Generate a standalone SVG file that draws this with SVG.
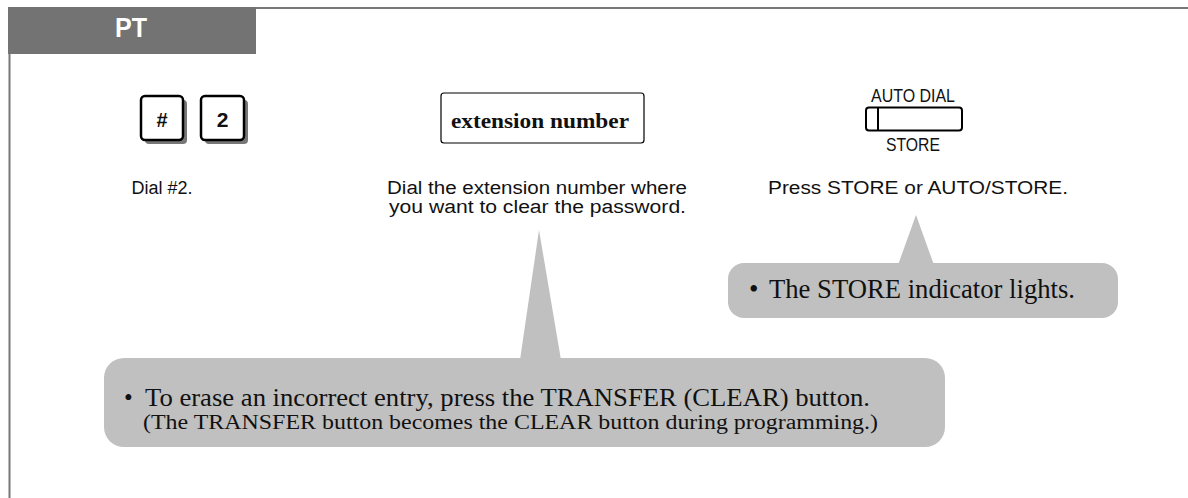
<svg xmlns="http://www.w3.org/2000/svg" width="1188" height="498" viewBox="0 0 1188 498">
<style>
.sans{font-family:"Liberation Sans",Arial,sans-serif;fill:#111}
.serif{font-family:"Liberation Serif","Times New Roman",serif;fill:#111}
.key{fill:#fff;stroke:#000;stroke-width:2.5}
.shadow{fill:#777}
.bubble{fill:#c0c0c0}
.desc{font-size:18px}
</style>
<rect width="1188" height="498" fill="#fff"/>
<g id="frame">
<line x1="8" y1="8" x2="1188" y2="8" stroke="#777" stroke-width="2"/>
<line x1="9.5" y1="54" x2="9.5" y2="498" stroke="#777" stroke-width="2"/>
<rect x="8" y="7" width="248" height="47" fill="#737373"/>
<text x="131" y="37" text-anchor="middle" class="sans" style="fill:#fff;font-weight:bold;font-size:27px" textLength="32" lengthAdjust="spacingAndGlyphs">PT</text>
</g>
<g id="key-hash">
<rect x="145" y="100" width="42" height="44" rx="4" class="shadow"/>
<rect x="141" y="96" width="42" height="44" rx="4" class="key"/>
<text x="162" y="127" text-anchor="middle" class="sans" style="font-weight:bold;font-size:20px">#</text>
</g>
<g id="key-2">
<rect x="205" y="100" width="43" height="44" rx="4" class="shadow"/>
<rect x="201" y="96" width="43" height="44" rx="4" class="key"/>
<text x="222.5" y="127" text-anchor="middle" class="sans" style="font-weight:bold;font-size:21px">2</text>
</g>
<g id="ext-box">
<rect x="441" y="93" width="203" height="50" rx="3" fill="#fff" stroke="#000" stroke-width="1.2"/>
<text x="540" y="128" text-anchor="middle" class="serif" style="font-weight:bold;font-size:22px" textLength="178" lengthAdjust="spacingAndGlyphs">extension number</text>
</g>
<g id="store-button">
<text x="913" y="102" text-anchor="middle" class="sans" style="font-size:18px" textLength="84" lengthAdjust="spacingAndGlyphs">AUTO DIAL</text>
<rect x="866" y="107.5" width="96" height="23" rx="3" fill="#fff" stroke="#000" stroke-width="2"/>
<line x1="878" y1="107.5" x2="878" y2="130.5" stroke="#000" stroke-width="2"/>
<text x="913" y="151" text-anchor="middle" class="sans" style="font-size:18px" textLength="54" lengthAdjust="spacingAndGlyphs">STORE</text>
</g>
<g id="descriptions">
<text x="162" y="194" text-anchor="middle" class="sans desc">Dial #2.</text>
<text x="537" y="194" text-anchor="middle" class="sans desc" textLength="300" lengthAdjust="spacingAndGlyphs">Dial the extension number where</text>
<text x="537.5" y="213" text-anchor="middle" class="sans desc" textLength="297" lengthAdjust="spacingAndGlyphs">you want to clear the password.</text>
<text x="918" y="194" text-anchor="middle" class="sans desc" textLength="300" lengthAdjust="spacingAndGlyphs">Press STORE or AUTO/STORE.</text>
</g>
<g id="connectors">
<polygon points="539,230 520,360 561,360" class="bubble"/>
<polygon points="916,215 898,265 934,265" class="bubble"/>
</g>
<g id="callout-store">
<rect x="728" y="263" width="390" height="55" rx="16" class="bubble"/>
<text x="749" y="298" class="serif" style="font-size:27px">•</text>
<text x="769" y="298" class="serif" style="font-size:27px" textLength="306" lengthAdjust="spacingAndGlyphs">The STORE indicator lights.</text>
</g>
<g id="callout-clear">
<rect x="104" y="358" width="841" height="89" rx="20" class="bubble"/>
<text x="124" y="406" class="serif" style="font-size:25px">•</text>
<text x="145" y="406" class="serif" style="font-size:25px" textLength="725" lengthAdjust="spacingAndGlyphs">To erase an incorrect entry, press the TRANSFER (CLEAR) button.</text>
<text x="143" y="429" class="serif" style="font-size:20px" textLength="735" lengthAdjust="spacingAndGlyphs">(The TRANSFER button becomes the CLEAR button during programming.)</text>
</g>
</svg>
